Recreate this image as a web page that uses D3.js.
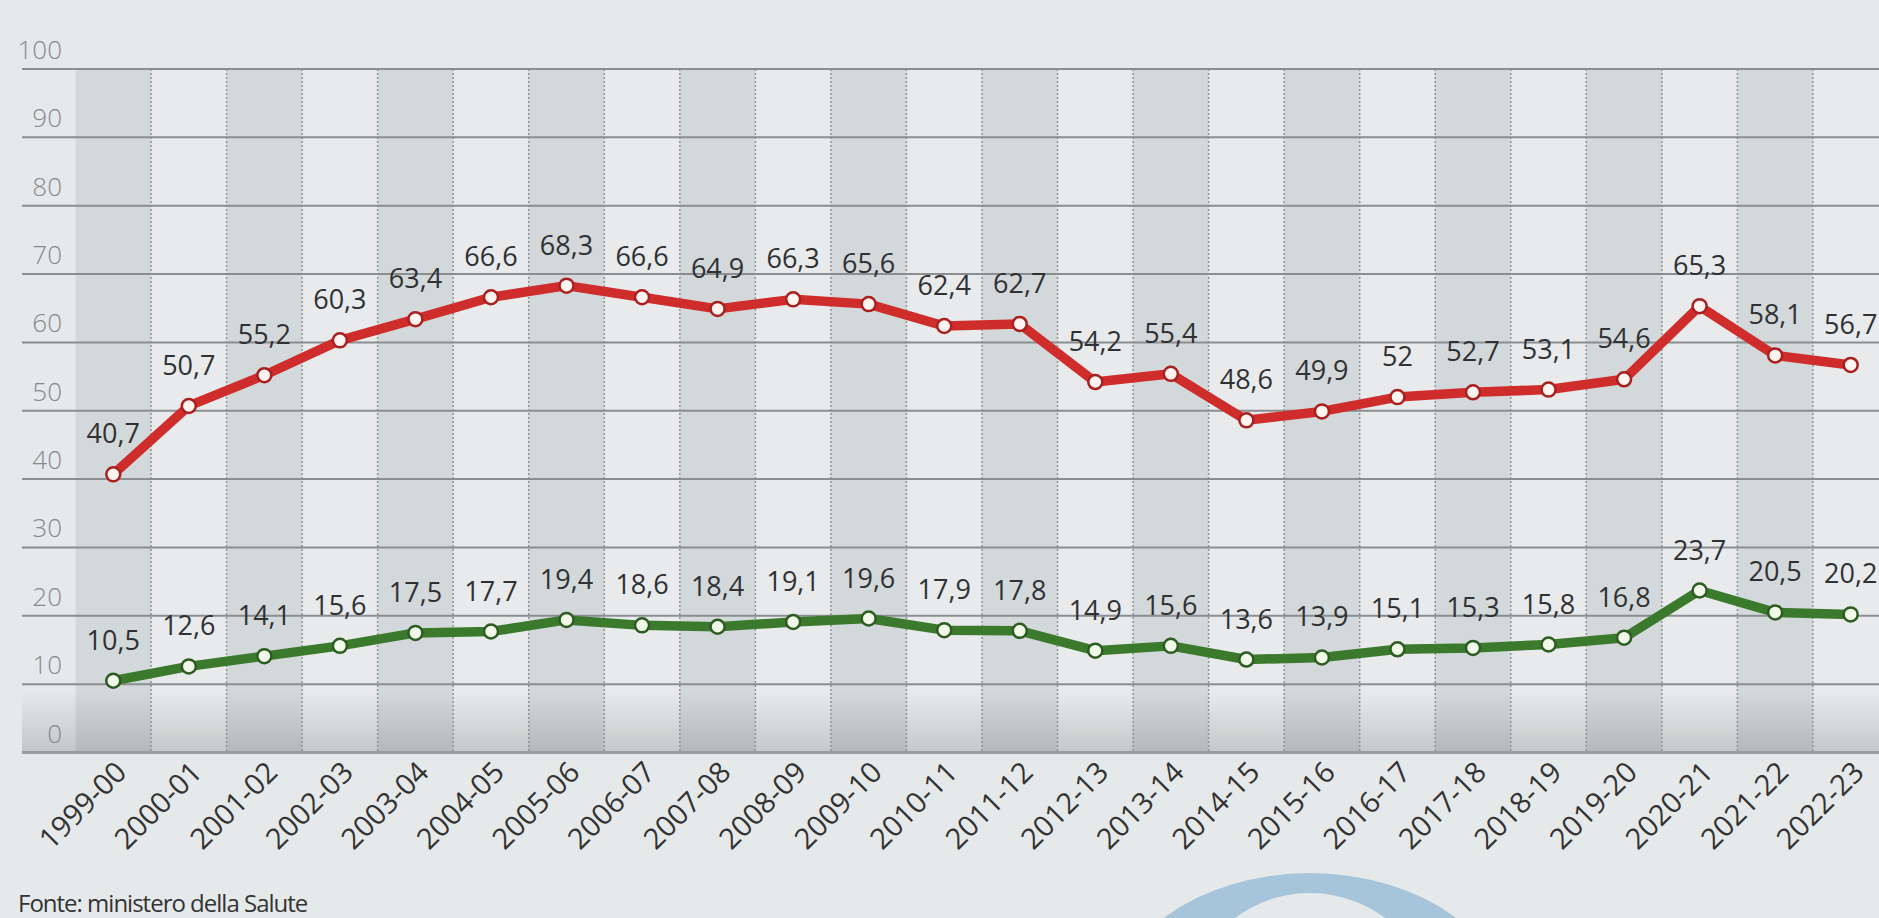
<!DOCTYPE html>
<html>
<head>
<meta charset="utf-8">
<script src="https://cdn.jsdelivr.net/npm/d3@7"></script>
<style>
  html, body { margin: 0; padding: 0; background: #e6e9ea; overflow: hidden; }
  svg { display: block; }
</style>
</head>
<body>
<div class="board"></div>
<script>
// seasons and the two series
const seasons = ['1999-00','2000-01','2001-02','2002-03','2003-04','2004-05','2005-06','2006-07',
  '2007-08','2008-09','2009-10','2010-11','2011-12','2012-13','2013-14','2014-15','2015-16',
  '2016-17','2017-18','2018-19','2019-20','2020-21','2021-22','2022-23'];
const redValues = [40.7, 50.7, 55.2, 60.3, 63.4, 66.6, 68.3, 66.6, 64.9, 66.3, 65.6, 62.4, 62.7,
  54.2, 55.4, 48.6, 49.9, 52, 52.7, 53.1, 54.6, 65.3, 58.1, 56.7];
const greenValues = [10.5, 12.6, 14.1, 15.6, 17.5, 17.7, 19.4, 18.6, 18.4, 19.1, 19.6, 17.9, 17.8,
  14.9, 15.6, 13.6, 13.9, 15.1, 15.3, 15.8, 16.8, 23.7, 20.5, 20.2];
const yTicks = [0, 10, 20, 30, 40, 50, 60, 70, 80, 90, 100];
const source = 'Fonte: ministero della Salute';

const W = 1879, H = 918;
const fmt = v => String(v).replace('.', ',');

const svg = d3.select('.board').append('svg')
  .attr('width', W).attr('height', H);

const x = d3.scaleBand().domain(seasons).range([75.5, 75.5 + 24 * 75.54]).padding(0);
const cx = d => x(d) + x.bandwidth() / 2;
const y = d3.scaleLinear().domain([0, 100]).range([752.5, 69]);

const defs = svg.append('defs');
const grad = defs.append('linearGradient').attr('id', 'bottomShade')
  .attr('x1', 0).attr('y1', 0).attr('x2', 0).attr('y2', 1);
grad.append('stop').attr('offset', '0%').attr('stop-color', '#000').attr('stop-opacity', 0);
grad.append('stop').attr('offset', '100%').attr('stop-color', '#000').attr('stop-opacity', 0.15);

// alternating column bands
svg.append('g').selectAll('rect')
  .data(seasons).enter()
  .append('rect')
    .attr('x', d => x(d))
    .attr('y', y(100))
    .attr('width', x.bandwidth())
    .attr('height', y(0) - y(100))
    .attr('fill', (d, i) => i % 2 === 0 ? '#d3d8da' : '#e8eaeb');

// darker shade at the bottom of the plot
svg.append('rect')
  .attr('x', 22).attr('y', y(9)).attr('width', W - 22).attr('height', y(0) - y(9))
  .attr('fill', 'url(#bottomShade)');

// dotted column separators
svg.append('g').selectAll('line')
  .data(seasons.slice(1)).enter()
  .append('line')
    .attr('x1', d => x(d)).attr('x2', d => x(d))
    .attr('y1', y(100)).attr('y2', y(0))
    .attr('stroke', '#8f9496')
    .attr('stroke-width', 1.5)
    .attr('stroke-dasharray', '2,2');

// horizontal grid
svg.append('g').selectAll('line')
  .data(yTicks).enter()
  .append('line')
    .attr('x1', 22).attr('x2', W)
    .attr('y1', d => y(d)).attr('y2', d => y(d))
    .attr('stroke', d => d === 0 ? '#9a9ea0' : '#8a8e90')
    .attr('stroke-width', d => d === 0 ? 3 : 2);

// y labels
svg.append('g').selectAll('text')
  .data(yTicks).enter()
  .append('text')
    .attr('x', 62)
    .attr('y', d => y(d) - 10)
    .attr('text-anchor', 'end')
    .attr('font-family', 'Open Sans')
    .attr('font-weight', 300)
    .attr('font-size', 26)
    .attr('fill', '#858a8c')
    .text(d => d);

// x labels
svg.append('g').selectAll('text')
  .data(seasons).enter()
  .append('text')
    .attr('transform', d => `translate(${cx(d) + 15},774) rotate(-45)`)
    .attr('text-anchor', 'end')
    .attr('font-family', 'Open Sans')
    .attr('font-size', 29)
    .attr('fill', '#333')
    .text(d => d);

function drawSeries(values, lineColor, dotFill, dotStroke) {
  const pts = seasons.map((s, i) => [cx(s), y(values[i])]);
  svg.append('path')
    .attr('d', d3.line()(pts))
    .attr('fill', 'none')
    .attr('stroke', lineColor)
    .attr('stroke-width', 9.5)
    .attr('stroke-linejoin', 'round');
  svg.append('g').selectAll('circle')
    .data(pts).enter()
    .append('circle')
      .attr('cx', d => d[0]).attr('cy', d => d[1])
      .attr('r', 7)
      .attr('fill', dotFill)
      .attr('stroke', dotStroke)
      .attr('stroke-width', 2.5);
  svg.append('g').selectAll('text')
    .data(values).enter()
    .append('text')
      .attr('x', (d, i) => cx(seasons[i]))
      .attr('y', d => y(d) - 31)
      .attr('text-anchor', 'middle')
      .attr('font-family', 'Open Sans')
      .attr('font-size', 27)
      .attr('fill', '#2f3133')
      .text(d => fmt(d));
}

drawSeries(redValues, '#cf2d2b', '#fff4ef', '#a8201f');
drawSeries(greenValues, '#3b7a2d', '#f1fae8', '#2d5c22');

// watermark ring
svg.append('ellipse')
  .attr('cx', 1310).attr('cy', 1023).attr('rx', 205).attr('ry', 150)
  .attr('fill', '#a6c4da');
svg.append('circle')
  .attr('cx', 1310).attr('cy', 1018).attr('r', 125)
  .attr('fill', '#e6e9ea');

svg.append('text')
  .attr('x', 18).attr('y', 912)
  .attr('font-family', 'Open Sans')
  .attr('font-size', 24)
  .attr('letter-spacing', -1)
  .attr('fill', '#333')
  .text(source);
</script>
</body>
</html>
